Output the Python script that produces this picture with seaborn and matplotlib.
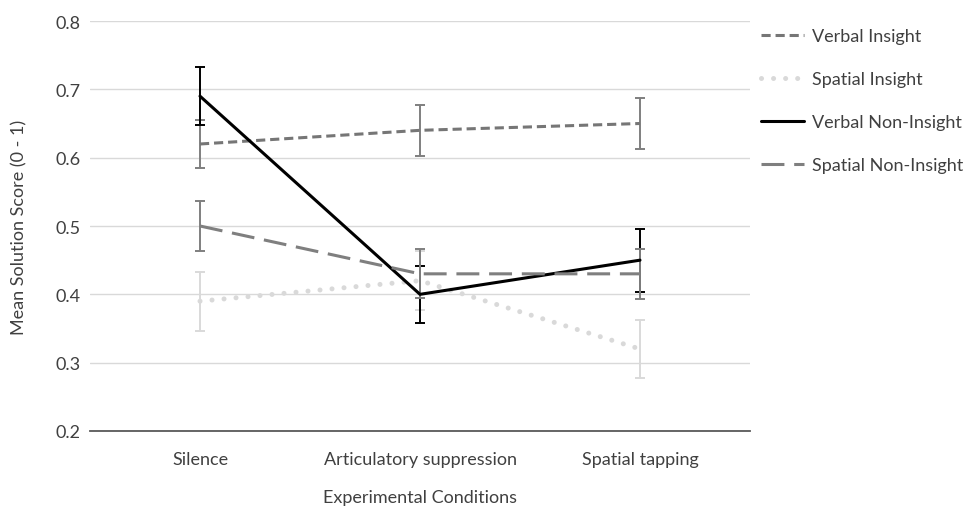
import pandas as pd
import matplotlib
matplotlib.use('Agg')
import matplotlib.pyplot as plt
from matplotlib.lines import Line2D
import seaborn as sns

# ---- DATA ----
conditions = ['Silence', 'Articulatory suppression', 'Spatial tapping']
series_names = ['Verbal Insight', 'Spatial Insight', 'Verbal Non-Insight', 'Spatial Non-Insight']

verbal_insight      = [0.62, 0.64, 0.65]
spatial_insight     = [0.39, 0.42, 0.32]
verbal_noninsight   = [0.69, 0.40, 0.45]
spatial_noninsight  = [0.50, 0.43, 0.43]

verbal_insight_err     = [0.035, 0.037, 0.037]
spatial_insight_err    = [0.043, 0.043, 0.042]
verbal_noninsight_err  = [0.042, 0.042, 0.046]
spatial_noninsight_err = [0.036, 0.036, 0.037]

values = [verbal_insight, spatial_insight, verbal_noninsight, spatial_noninsight]
errors = [verbal_insight_err, spatial_insight_err, verbal_noninsight_err, spatial_noninsight_err]

rows = []
for name, vals, errs in zip(series_names, values, errors):
    for cond, v, e in zip(conditions, vals, errs):
        rows.append({'condition': cond, 'score': v, 'err': e, 'series': name})
df = pd.DataFrame(rows)

# ---- STYLE ----
colors = {'Verbal Insight': '#767676', 'Spatial Insight': '#d9d9d9',
          'Verbal Non-Insight': '#000000', 'Spatial Non-Insight': '#7f7f7f'}
err_colors = {'Verbal Insight': '#7f7f7f', 'Spatial Insight': '#d9d9d9',
              'Verbal Non-Insight': '#000000', 'Spatial Non-Insight': '#7f7f7f'}
dashes = {'Verbal Insight': (3.0, 1.6), 'Spatial Insight': (0.01, 2.4),
          'Verbal Non-Insight': '', 'Spatial Non-Insight': (7.5, 3.2)}
widths = {'Verbal Insight': 2.2, 'Spatial Insight': 3.6,
          'Verbal Non-Insight': 2.2, 'Spatial Non-Insight': 2.2}

sns.set_style('white')
plt.rcParams['font.family'] = ['Lato', 'DejaVu Sans']
text_color = '#404040'
fs = 13

fig = plt.figure(figsize=(9.76, 5.10), dpi=100)
ax = fig.add_axes([90/976, 1 - 432/510, 660/976, 410/510])

# error bars first so lines sit on top
x_pos = {c: i for i, c in enumerate(conditions)}
for name in series_names:
    sub = df[df['series'] == name]
    ax.errorbar([x_pos[c] for c in sub['condition']], sub['score'], yerr=sub['err'],
                fmt='none', ecolor=err_colors[name], elinewidth=1.4,
                capsize=3.5, capthick=1.4, zorder=2)

sns.lineplot(data=df, x='condition', y='score', hue='series', style='series',
             palette=colors, dashes=dashes, hue_order=series_names,
             style_order=series_names, legend=False, ax=ax, zorder=3)

for line, name in zip(ax.get_lines()[-len(series_names):], series_names):
    line.set_linewidth(widths[name])
    if name == 'Spatial Insight':
        line.set_dash_capstyle('round')
    else:
        line.set_dash_capstyle('butt')

ax.set_xlim(-0.5, 2.5)
ax.set_ylim(0.2, 0.8)
ax.set_yticks([0.2, 0.3, 0.4, 0.5, 0.6, 0.7, 0.8])
ax.set_yticklabels(['0.2', '0.3', '0.4', '0.5', '0.6', '0.7', '0.8'])
ax.set_xticks([0, 1, 2, 2.5])
ax.set_xticklabels(conditions + [''])
ax.yaxis.grid(True, color='#d9d9d9', linewidth=1.0)
ax.xaxis.grid(False)
for side in ['top', 'right', 'left']:
    ax.spines[side].set_visible(False)
ax.spines['bottom'].set_color('#595959')
ax.spines['bottom'].set_linewidth(1.3)
ax.tick_params(axis='x', direction='inout', length=7, width=1, color='#595959',
               labelsize=fs, labelcolor=text_color, pad=11)
ax.tick_params(axis='y', length=0, labelsize=fs, labelcolor=text_color, pad=7)

ax.set_xlabel('Experimental Conditions', fontsize=fs, color=text_color, labelpad=16)
ax.set_ylabel('Mean Solution Score (0 - 1)', fontsize=fs, color=text_color, labelpad=20)

# ---- LEGEND ----
handles = []
for name in series_names:
    h = Line2D([0], [0], color=colors[name], linewidth=widths[name])
    if dashes[name]:
        h.set_dashes(dashes[name])
    h.set_dash_capstyle('round' if name == 'Spatial Insight' else 'butt')
    handles.append(h)
fig.legend(handles, series_names, loc='upper left', bbox_to_anchor=(761/976, 1 - 29/510),
           frameon=False, fontsize=fs, handlelength=2.4, handletextpad=0.4,
           labelspacing=1.5, labelcolor=text_color, borderaxespad=0, borderpad=0)

plt.savefig('out.png', dpi=100)
plt.close()
